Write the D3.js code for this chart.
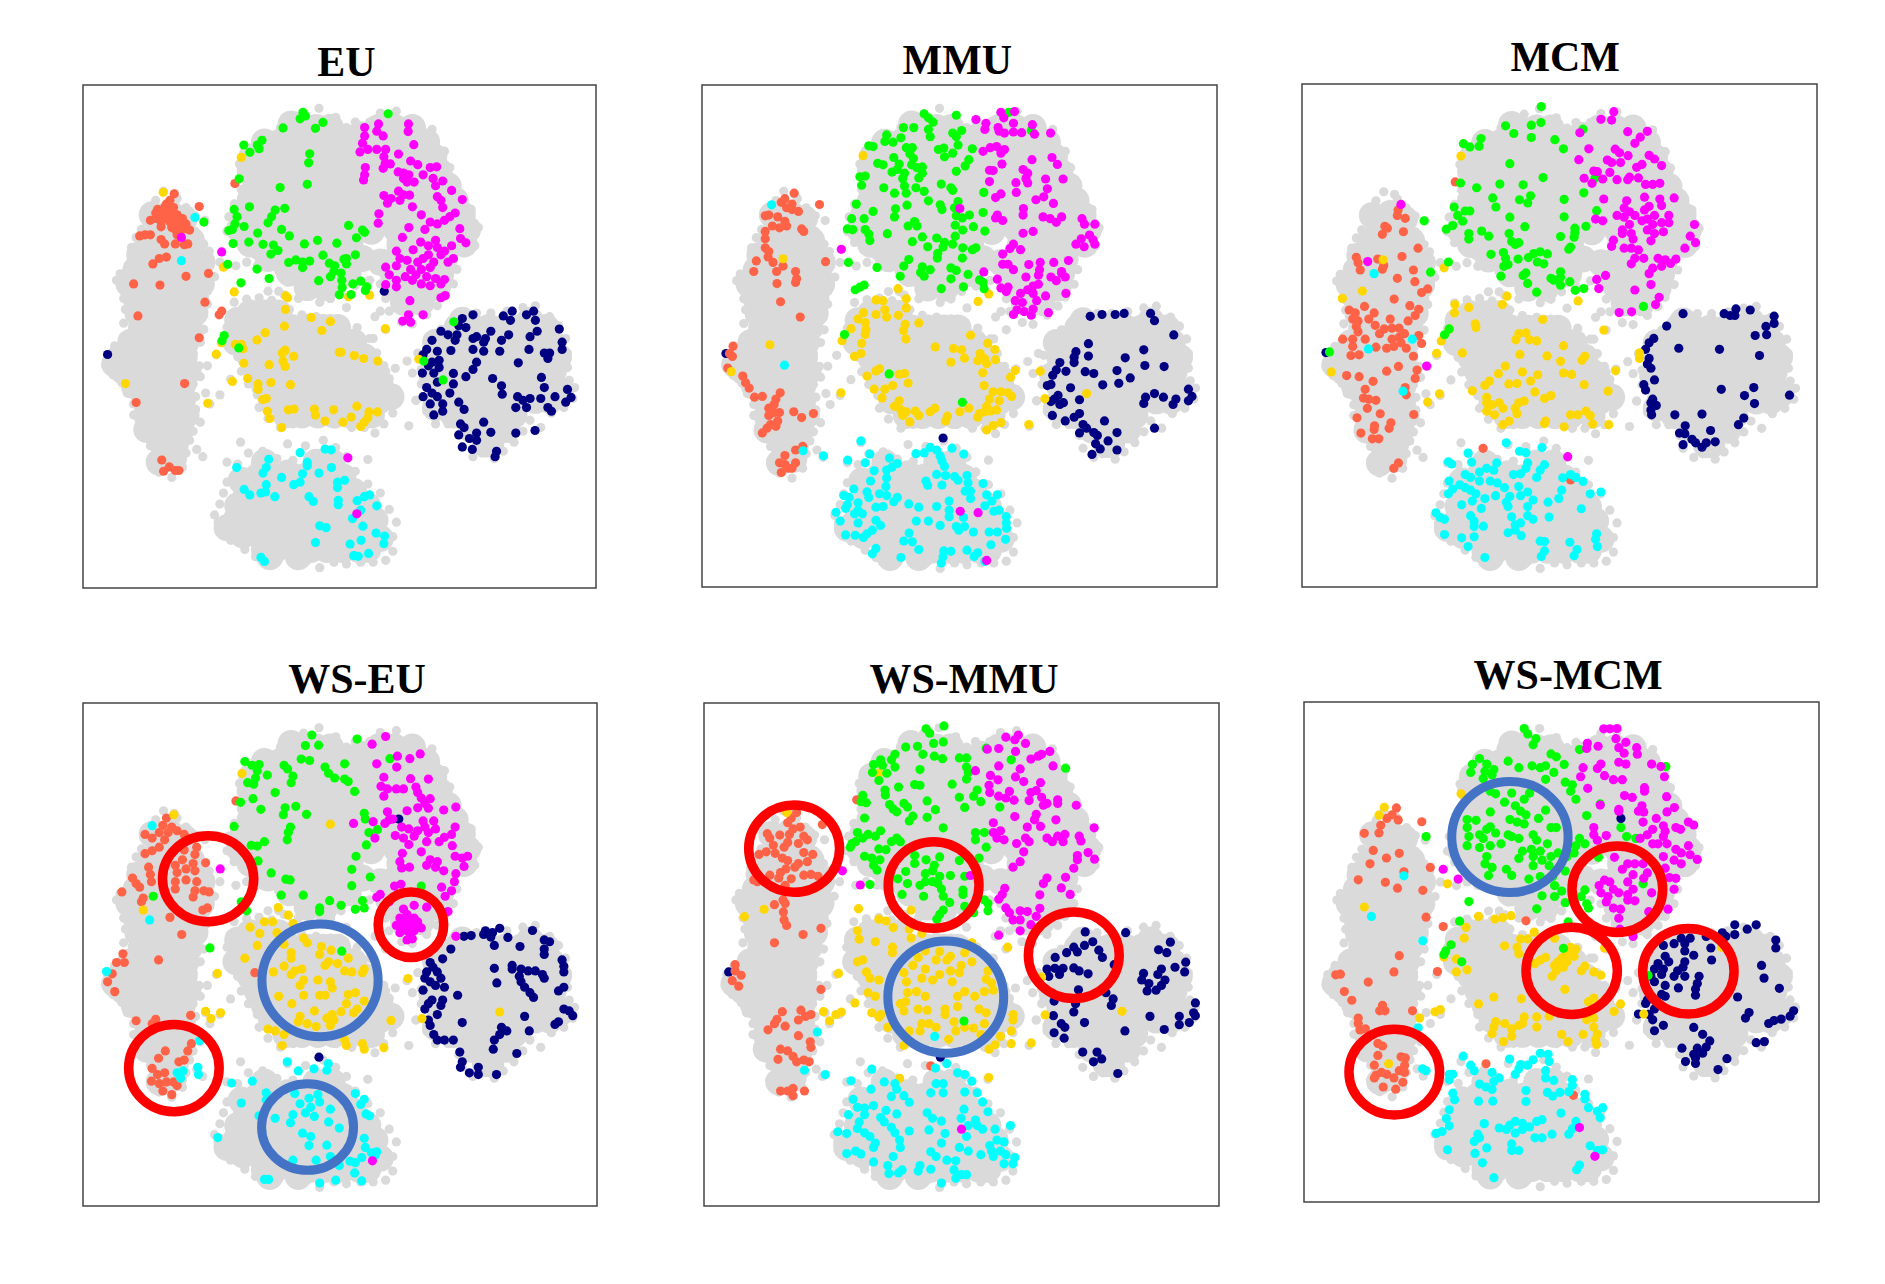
<!DOCTYPE html>
<html>
<head>
<meta charset="utf-8">
<script src="https://cdn.jsdelivr.net/npm/d3@7"></script>
<style>
  body { margin: 0; background: #fff; }
</style>
</head>
<body>
<div class="chart"></div>
<script>
// flat x,y lists
var grayCore = [
  280,505,230,510,320,520, 250,540,295,540, 225,580,270,580,315,580,340,580, 195,620,210,620,255,620,300,620,345,620,370,640,
  185,660,230,660,275,660,320,660,360,660, 165,700,170,700,215,700,260,700,305,700,350,700,368,700,
  185,740,230,740,275,740,320,740,352,740, 190,780,235,780,280,780,325,780,350,780,
  200,820,245,820,290,820,335,820, 170,860,215,860,260,860,305,860,325,860,
  140,900,185,900,230,900,275,900,320,900, 125,920,150,940,195,940,240,940,285,940,330,940,
  180,980,225,980,270,980,315,980, 210,1020,255,1020,300,1020,315,1020,
  215,1060,260,1060,305,1060,325,1060, 215,1100,235,1100,280,1100,310,1100, 260,1140,295,1140, 250,1190,265,1180,290,1180,
  620,260,640,270,690,270,730,270,865,270,910,270,960,270,
  545,310,590,310,635,310,680,310,725,310,765,310,785,300,815,290,810,310,845,310,890,310,935,310,980,310,1000,310,
  510,350,555,350,600,350,645,350,690,350,735,350,780,350,825,350,870,350,915,350,960,350,1005,350,1020,350,
  505,390,550,390,595,390,640,390,685,390,730,390,775,390,820,390,865,390,910,390,955,390,1000,390,1035,390,
  520,430,565,430,610,430,655,430,700,430,745,430,790,430,835,430,880,430,925,430,970,430,1015,430,1060,430,
  505,470,550,470,595,470,640,470,685,470,730,470,775,470,820,470,865,470,910,470,955,470,1000,470,1045,470,1080,470,
  485,510,530,510,575,510,620,510,665,510,710,510,755,510,800,510,830,510,880,510,925,510,970,510,1015,510,1060,510,1100,510,
  475,550,520,550,565,550,610,550,655,550,700,550,745,550,795,550,845,555,915,550,960,550,1005,550,1050,550,1095,550,1115,550,
  505,590,550,590,595,590,640,590,685,590,730,590,785,590,925,590,970,590,1015,590,1060,590,1105,590,
  555,630,600,630,645,630,690,630,735,630,770,630,820,630,870,640,915,630,960,630,1005,630,1050,630,
  615,670,660,670,705,670,750,670,780,670,905,670,950,670,995,670,1040,670,
  665,710,715,710,915,710,960,710,1005,710,1030,710, 935,750,985,750,
  505,780,550,780,585,780, 470,800,485,820,530,820,575,820,620,820,665,820,710,820,750,820,
  465,860,505,860,550,860,595,860,640,860,685,860,730,860,775,860,795,860,
  505,900,550,900,595,900,640,900,685,900,730,900,775,900,825,900,
  525,940,570,940,615,940,660,940,705,940,750,940,795,940,845,940,
  545,980,590,980,635,980,680,980,725,980,770,980,815,980,870,980,
  565,1020,610,1020,655,1020,700,1020,745,1020,790,1020,835,1020,868,1020,900,1010,
  605,1060,650,1060,695,1060,740,1060,785,1060,845,1060,
  1100,800,1085,820,1130,820,1175,820,1220,820,1265,820,1290,800,1310,820,1335,820,
  1025,860,1045,860,1090,860,1135,860,1180,860,1225,860,1270,860,1315,860,1350,860,
  1035,900,1080,900,1125,900,1170,900,1215,900,1260,900,1305,900,1355,900,1370,900,
  1015,950,1040,940,1085,940,1130,940,1175,940,1220,940,1265,940,1310,940,1355,940,
  1035,980,1080,980,1125,980,1170,980,1215,980,1260,980,1305,980,1355,980,1375,1000,
  1025,1040,1035,1020,1080,1020,1125,1020,1170,1020,1215,1020,1260,1020,1305,1020,1345,1020,
  1075,1060,1120,1060,1165,1060,1210,1060,1245,1060, 1125,1100,1170,1100,1225,1100, 1165,1140,1180,1140,
  545,1190,690,1190,735,1190, 525,1230,555,1230,610,1220,655,1230,700,1230,745,1230,765,1230,
  480,1240,495,1270,540,1270,585,1270,600,1250,630,1270,675,1270,720,1270,765,1270,795,1270,
  470,1310,515,1310,560,1310,605,1310,650,1310,695,1310,740,1310,785,1310,835,1310,
  440,1370,465,1350,510,1350,555,1350,600,1350,645,1350,690,1350,735,1350,780,1350,825,1350,855,1350,
  485,1390,530,1390,575,1390,620,1390,665,1390,710,1390,755,1390,800,1390,855,1390,870,1400,
  545,1430,560,1450,575,1430,640,1450,675,1430,720,1430,765,1430,810,1430,835,1430
];
var grayEdge = [
  262,445,292,452,240,470,225,490,212,520,200,550,185,572,172,600,180,632,160,660,140,672,130,690,150,712,
  150,740,155,770,150,808,175,830,150,845,125,870,105,895,100,925,120,950,145,972,160,1000,178,1030,178,1060,
  195,1090,215,1115,225,1145,225,1185,250,1218,285,1232,315,1205,325,1165,335,1130,345,1105,365,1080,352,1045,
  352,1010,345,975,365,955,362,925,345,890,365,860,375,825,370,790,385,755,385,720,405,680,385,645,390,610,
  375,590,350,555,340,525,325,490,300,465,350,512,378,525,
  698,217,745,242,655,232,625,262,590,270,555,290,520,310,490,335,475,370,490,405,480,440,460,480,445,515,
  440,555,460,585,490,600,520,620,550,640,585,665,610,695,650,705,680,725,700,750,730,740,760,720,800,705,
  840,690,870,700,885,740,895,775,930,805,960,810,1000,785,1030,760,1050,735,1075,700,1085,660,1110,610,1135,595,
  1145,545,1125,495,1095,465,1085,430,1065,380,1050,335,1020,310,1015,275,985,270,950,250,915,225,870,230,
  840,255,800,255,775,270,
  465,650,495,640,525,650,555,720,585,720,640,740,700,730,730,740,775,765,855,790,870,775,885,825,850,850,
  945,912,960,945,885,940,912,932,970,1020,950,1090,380,1000,420,1005,392,1030,450,962,410,895,385,925,
  355,1155,372,1175,610,1140,478,1135,835,1183,420,640,
  460,750,495,742,530,738,565,745,600,730,615,770,650,785,690,790,730,795,770,805,805,820,840,850,860,890,
  880,925,895,960,915,990,900,1025,905,1055,880,1085,855,1110,825,1095,790,1095,745,1085,700,1075,660,1075,
  625,1085,590,1095,555,1070,530,1040,525,1005,500,975,480,940,470,900,450,870,440,820,450,785,
  1040,825,1070,800,1105,785,1140,780,1180,780,1225,775,1270,765,1305,760,1345,790,1370,815,1390,850,1395,890,
  1395,930,1400,965,1415,985,1410,1015,1385,1040,1350,1055,1320,1095,1290,1075,1270,1105,1245,1135,1215,1160,
  1190,1180,1155,1165,1130,1175,1100,1150,1090,1115,1060,1085,1025,1085,1000,1050,970,1020,985,975,985,935,
  990,895,975,890,1005,855,
  440,1190,470,1195,500,1165,540,1160,580,1180,600,1215,625,1185,660,1145,710,1130,745,1150,775,1175,800,1215,
  835,1250,870,1275,895,1320,915,1355,905,1395,905,1435,885,1460,850,1465,815,1465,775,1470,740,1465,700,1480,
  665,1460,630,1450,590,1450,555,1465,520,1450,490,1430,450,1405,430,1385,415,1355,405,1335,420,1305,430,1275,
  440,1245,465,1225
];

var euCoral = [270,480,280,500,260,505,290,520,270,520,240,505,255,530,285,545,310,535,305,520,280,470,265,490,245,495,290,490,270,510,250,515,300,510,225,525,240,520,280,530,315,520,325,535,300,535,255,543,295,550,315,550,335,552,300,565,210,565,225,565,195,568,255,578,265,590,295,590,320,592,330,590,292,452,362,487,462,424,270,626,250,630,232,645,178,700,252,703,325,679,388,671,378,750,190,788,425,775,418,785,362,848,321,974,185,1026,257,1184,278,1203,262,1215,295,1213,305,1213];
var euGold = [261,448,480,352,430,654,460,722,605,733,610,738,604,770,601,816,676,792,730,803,706,828,547,834,524,854,884,823,463,866,480,866,485,878,600,885,603,882,595,890,627,899,760,888,755,888,797,897,823,905,863,912,410,893,597,912,603,927,558,922,487,918,978,907,424,862,155,974,498,960,455,968,527,975,563,971,618,977,527,990,540,1018,550,1015,386,1028,553,1050,560,1070,612,1046,628,1044,685,1044,688,1060,739,1046,804,1036,838,1052,862,1052,835,1068,825,1080,815,1092,788,1066,765,1080,715,1077,593,1095,781,735,840,731];
var euLime = [653,228,660,238,645,246,709,256,688,272,597,271,892,232,538,305,525,318,530,328,487,318,504,338,672,342,669,367,474,411,589,435,665,426,460,495,503,488,602,492,575,497,565,515,555,532,468,515,462,535,445,553,455,550,488,542,526,560,593,550,781,539,820,552,826,558,375,530,615,568,803,573,694,580,457,589,501,585,541,591,570,593,657,590,748,588,583,608,563,618,709,621,800,620,775,630,613,641,633,634,672,637,652,640,652,655,768,632,775,645,727,643,742,650,442,646,524,659,740,665,760,670,730,680,558,685,697,691,479,697,762,690,793,700,815,692,832,708,828,718,763,710,755,730,788,729,432,842,426,856,473,876,1076,804,992,912,1046,964];
var euMagenta = [826,270,865,260,860,280,878,293,949,260,948,281,826,293,820,313,964,317,813,337,835,330,860,330,885,330,880,350,921,343,884,368,878,382,898,370,828,380,826,400,823,414,955,362,975,372,1010,380,1028,378,920,392,935,395,950,400,935,410,965,420,990,400,1018,410,945,420,1045,417,1025,430,1070,443,1030,460,1040,470,1045,490,921,445,952,456,880,457,900,465,925,470,935,455,1100,468,890,478,960,488,985,510,1080,505,1065,515,1050,525,1030,535,1010,530,995,550,866,507,864,533,950,545,1093,548,932,572,983,585,1095,575,1110,587,1070,595,1025,580,1005,595,1030,600,915,610,962,606,1050,610,1075,630,1040,620,1005,620,925,630,945,635,975,640,990,630,1020,640,1060,640,885,654,915,650,955,660,985,660,1010,655,895,675,940,680,970,675,1000,680,1025,685,1050,688,885,702,915,690,915,708,960,690,985,700,1010,705,1040,700,1040,738,1052,732,953,746,949,785,990,785,933,802,955,805,425,612,312,572,804,1332,779,1178];
var euNavy = [105,894,881,720,1130,785,1100,795,1090,815,1110,820,1085,840,1040,830,1060,840,1080,855,1130,850,1140,845,1165,850,1160,860,1180,830,1215,788,1240,775,1235,800,1210,855,1230,840,1280,785,1300,775,1305,800,1290,845,1310,830,1372,824,1380,860,1380,880,1345,890,1330,890,1340,905,1287,880,1205,885,1160,885,1130,880,1068,883,1015,855,1000,880,1030,885,990,895,1035,910,1035,930,1015,915,1005,925,1020,945,988,945,1075,946,1140,915,1130,935,1257,917,1110,955,1185,960,1210,980,1212,1003,1322,957,1075,975,1065,1000,1030,970,1000,985,1015,1000,1030,1010,990,1010,1010,1030,1045,1030,1045,1050,1020,1060,1090,1025,1105,1045,1255,1010,1270,1020,1290,1015,1330,985,1320,1015,1340,1040,1350,1050,1360,1010,1395,990,1405,1012,1390,1025,1250,1040,1280,1040,1160,1080,1095,1085,1105,1095,1090,1115,1120,1125,1140,1110,1180,1108,1140,1130,1100,1148,1128,1155,1196,1160,1192,1175,1250,1110,1304,1103];
var euCyan = [350,517,312,636,645,1164,715,1154,732,1156,557,1182,665,1190,665,1200,733,1205,467,1205,550,1205,541,1220,652,1222,698,1220,593,1232,645,1245,627,1252,550,1252,770,1240,750,1245,750,1260,488,1265,504,1280,535,1275,548,1272,574,1285,670,1285,682,1298,840,1280,825,1285,805,1296,752,1295,752,1307,860,1310,815,1322,792,1345,700,1365,718,1370,821,1366,858,1385,882,1393,688,1411,785,1415,816,1405,880,1414,837,1441,795,1447,808,1449,535,1452,545,1463];

var mmuCoral = [291,450,265,465,255,475,362,481,285,480,270,490,303,500,285,495,210,512,220,510,245,515,265,527,230,540,250,545,270,540,312,548,318,555,210,555,210,575,210,600,220,610,218,625,232,640,260,650,185,636,379,638,178,665,242,665,295,665,298,685,243,698,295,695,253,748,308,790,120,870,110,890,118,898,105,930,147,952,155,970,165,985,180,1010,202,1008,252,998,240,1015,235,1030,220,1040,250,1052,235,1052,220,1060,345,1055,290,1050,312,1066,245,1075,225,1085,215,1095,202,1108,240,1090,295,1155,315,1145,265,1170,250,1190,265,1195,295,1190,275,1205,255,1217,285,1205];
var mmuGold = [484,347,260,630,223,866,115,940,582,712,520,743,540,745,605,740,545,770,605,765,485,778,470,795,490,805,520,783,550,790,583,785,640,806,602,810,597,827,492,825,490,838,450,822,425,855,604,850,480,862,785,840,833,862,686,872,737,876,760,880,853,879,812,890,478,890,460,898,768,903,805,910,825,905,855,907,730,914,830,918,530,932,520,938,600,945,585,947,819,943,910,937,495,952,897,955,980,939,610,971,567,978,823,978,515,988,545,988,848,995,870,995,890,998,900,1008,422,998,537,1012,838,1015,865,1020,993,1014,1110,1000,585,1020,572,1035,590,1045,605,1050,630,1048,640,1060,685,1040,672,1050,720,1062,715,1075,830,1035,825,1050,810,1055,780,1040,755,1050,858,1045,840,1048,595,1060,615,1078,948,1085,870,1080,848,1088,830,1100,805,1065,836,727,806,747];
var mmuLime = [655,232,667,243,680,255,745,236,597,270,626,270,667,275,672,295,760,278,735,285,745,295,550,290,590,298,545,308,568,310,500,320,512,322,605,325,622,325,710,326,695,330,750,318,735,340,790,328,615,342,625,355,712,350,780,358,570,352,525,368,540,372,585,370,620,372,770,375,650,378,635,380,580,385,565,392,600,395,745,390,490,403,475,405,595,410,650,395,640,408,480,428,542,435,600,430,632,435,703,425,730,435,735,442,572,450,605,450,655,445,822,448,667,471,750,473,465,480,700,482,705,495,740,490,575,493,607,483,512,500,820,503,572,515,452,520,487,520,745,512,762,518,782,510,628,528,610,540,635,540,742,538,793,542,440,548,455,550,490,550,500,562,763,551,825,554,552,561,503,580,650,570,690,573,742,568,622,583,712,585,735,590,708,598,665,597,763,600,800,600,790,605,693,615,692,628,612,632,762,628,443,640,598,650,523,654,650,652,730,655,745,662,672,660,645,668,655,678,588,678,778,673,730,685,810,688,820,695,462,715,475,708,487,702,703,712,765,707,823,712,432,838,557,946,762,1024,892,228,955,278];
var mmuMagenta = [870,228,908,226,878,243,800,248,828,258,825,275,905,258,958,262,862,270,865,280,880,285,905,282,928,284,964,288,1009,285,858,322,880,330,840,325,820,335,870,340,873,370,957,358,1013,352,1028,371,838,387,848,388,932,385,945,395,940,410,995,411,1044,411,838,418,912,421,945,422,1000,438,913,448,870,452,855,462,990,460,968,468,1017,478,755,492,933,492,932,510,860,510,855,518,875,525,988,515,1008,520,1025,530,1040,515,1097,520,1104,535,1133,535,932,560,960,555,1118,565,1128,578,1133,590,1095,575,1080,590,1103,597,905,590,895,602,925,605,875,617,423,604,1059,635,1018,640,980,640,948,646,875,645,890,645,905,660,978,660,1040,665,822,666,860,686,940,680,975,675,1010,680,1025,690,1050,680,1040,670,870,710,885,720,890,708,960,705,975,700,945,715,925,725,960,725,995,732,1052,725,910,745,930,750,970,745,915,770,935,775,960,768,1003,778,905,783,955,785,756,1323,806,1327,830,1458];
var mmuNavy = [100,890,1120,788,1153,783,1190,783,1215,780,1289,780,1300,800,1354,839,1115,863,1080,885,1075,900,1075,915,1115,897,1270,880,1218,902,1035,915,1025,935,1052,939,1106,940,1130,945,1195,937,1273,923,1327,926,1232,957,1155,976,1200,972,1015,950,1010,975,1000,978,1065,984,1030,1005,1020,1015,1010,1022,1035,1030,1045,1025,1090,1017,1300,1000,1275,1010,1325,1010,1360,1015,1352,1030,1270,1027,1395,988,1405,1008,1395,1020,1014,1060,1090,1055,1075,1065,1050,1075,1160,1075,1100,1085,1110,1095,1090,1108,1130,1107,1140,1115,1195,1107,1300,1095,1170,1130,1135,1138,1148,1152,1195,1155,1125,1167,708,1122];
var mmuCyan = [228,482,264,922,316,1157,373,1171,478,1130,672,1148,690,1155,733,1150,655,1163,632,1165,503,1166,558,1177,700,1172,766,1166,441,1183,490,1190,705,1185,580,1192,565,1202,712,1200,550,1210,515,1212,715,1225,690,1222,740,1228,775,1225,660,1240,750,1238,550,1232,505,1240,820,1247,665,1252,778,1245,705,1251,548,1255,770,1268,785,1268,458,1262,495,1270,530,1275,500,1285,550,1280,445,1285,430,1280,580,1285,830,1278,860,1278,785,1288,440,1305,470,1300,570,1297,725,1295,845,1295,612,1303,690,1310,640,1312,540,1310,520,1312,470,1320,435,1315,825,1308,865,1320,850,1323,725,1320,460,1330,482,1330,408,1326,420,1350,885,1338,725,1338,765,1340,633,1350,667,1350,885,1355,520,1348,470,1355,533,1362,700,1362,745,1365,768,1365,886,1370,510,1375,495,1385,752,1375,793,1380,837,1380,860,1380,613,1383,435,1388,462,1389,485,1395,883,1400,598,1405,622,1407,842,1415,520,1425,510,1440,640,1428,710,1432,730,1433,775,1430,805,1437,795,1447,708,1448,590,1450,703,1465,825,1461];

var mcmCoral = [302,495,300,510,322,518,265,540,272,545,258,562,317,555,358,600,185,625,245,630,190,640,313,623,262,648,258,658,196,660,345,660,300,683,349,692,385,712,368,722,462,418,291,740,335,758,208,760,360,768,165,770,182,778,235,778,350,785,175,795,190,800,220,795,280,795,330,800,238,812,263,822,185,815,190,830,285,820,305,820,250,835,147,850,175,850,210,850,285,850,305,845,320,835,360,840,270,875,290,870,310,860,240,872,325,875,175,870,345,897,368,862,193,893,170,895,303,925,355,935,270,938,350,958,158,950,193,953,232,966,210,988,322,983,325,1003,205,1012,220,1015,240,1018,216,1040,252,1055,346,1057,187,1066,282,1080,236,1088,235,1098,277,1095,198,1108,230,1124,248,1124,303,1190,290,1205,540,1150,785,1237];
var mcmGold = [478,347,260,632,431,654,202,718,146,738,607,732,594,755,461,755,500,763,460,778,518,808,520,818,707,796,878,825,445,822,423,855,640,835,660,833,632,852,670,852,690,855,765,868,978,888,978,903,410,889,482,888,643,892,719,896,825,897,817,908,757,911,115,940,602,924,911,937,650,940,583,945,693,948,765,943,788,947,558,965,545,977,612,973,635,972,673,965,823,975,510,992,685,995,890,993,418,1000,385,1023,550,1010,730,1005,712,1013,655,1020,640,1025,550,1025,565,1030,585,1025,630,1040,596,1040,550,1048,635,1055,572,1058,785,1058,805,1058,828,1048,840,1060,613,1075,595,1085,715,1075,712,1082,847,1083,892,1085,767,1091,806,745];
var mcmLime = [703,211,603,264,675,262,702,255,820,273,626,285,675,296,741,302,534,299,485,313,503,322,529,320,765,327,615,368,708,406,853,408,477,421,587,424,652,426,522,434,822,448,673,456,567,462,642,467,665,476,767,466,576,487,459,487,490,498,503,498,858,497,469,510,483,526,615,515,767,514,375,525,657,541,828,540,455,538,437,548,797,545,797,558,795,570,536,553,613,560,500,560,500,575,556,567,757,568,620,582,630,590,640,585,785,597,780,603,597,612,562,617,682,615,700,610,720,616,443,638,603,628,667,626,638,630,610,645,598,650,692,638,710,643,393,666,660,668,652,675,590,677,757,665,757,680,665,697,730,683,738,688,783,692,757,702,690,721,798,716,822,711,432,838,445,822,989,760,110,885];
var mcmMagenta = [906,225,870,246,900,248,945,280,1000,279,980,295,965,312,811,283,836,327,910,328,922,338,946,346,808,357,888,358,900,365,925,365,1005,345,1020,355,1040,373,985,370,850,388,860,390,895,392,970,378,823,408,875,410,915,412,945,412,950,405,975,407,845,422,995,425,1015,425,1035,422,878,465,942,470,992,460,1035,465,1075,462,1040,483,1005,485,992,495,935,490,950,500,965,510,915,510,935,515,855,520,875,525,1000,520,1020,510,1060,510,950,535,985,525,1015,535,1040,530,1060,530,1132,535,930,550,955,560,1000,550,1020,560,1045,555,930,560,1010,580,905,578,960,575,1120,567,900,595,1135,585,935,600,955,600,975,605,1105,600,965,628,990,628,955,643,1030,628,1050,632,1065,642,1080,630,1015,655,1040,650,1005,670,1010,700,883,675,858,686,864,711,965,715,1033,735,1023,755,921,777,956,775,310,480,217,637,382,924,777,1173];
var mcmNavy = [100,887,1100,780,1215,780,1248,767,1288,770,1232,785,1245,785,1355,787,1355,807,1054,814,1332,815,1302,840,1334,838,1018,848,1005,860,995,878,1088,875,1202,878,1314,895,1005,903,1000,918,1010,930,1020,962,990,975,995,990,1207,988,1298,983,1272,1005,1398,1004,1015,1015,1010,1025,1025,1032,1300,1027,1010,1045,1012,1058,1077,1058,1153,1056,1270,1067,1255,1085,1106,1088,1177,1101,1090,1108,1105,1110,1125,1125,1135,1135,1165,1135,1190,1132,1153,1147,1100,1140];
var mcmCyan = [235,670,219,877,342,850,316,993,605,1135,705,1148,642,1158,660,1162,498,1163,443,1187,452,1193,508,1188,578,1190,665,1190,712,1195,660,1205,550,1205,530,1215,570,1210,490,1222,505,1230,625,1222,700,1210,645,1220,690,1230,785,1222,800,1230,820,1241,763,1231,445,1240,530,1240,560,1240,580,1245,475,1250,490,1258,505,1265,520,1275,640,1255,455,1262,600,1258,443,1275,760,1265,665,1270,870,1270,840,1275,645,1280,575,1280,615,1282,510,1295,545,1288,680,1292,752,1288,722,1298,605,1298,480,1305,535,1315,610,1310,665,1310,815,1316,408,1327,505,1335,420,1340,432,1345,620,1338,665,1335,725,1339,680,1345,515,1350,645,1355,515,1365,630,1360,541,1364,630,1375,432,1387,858,1385,610,1382,647,1390,480,1396,515,1393,855,1400,700,1405,712,1406,783,1408,498,1420,860,1420,803,1428,712,1432,795,1445,703,1447,545,1450];

var wsEuCoral = [270,465,260,485,285,490,250,505,275,505,300,500,210,510,230,520,265,525,320,510,250,545,210,563,230,555,355,545,320,553,350,565,380,588,315,580,345,590,220,600,295,595,325,605,350,610,225,620,300,615,175,630,228,640,185,645,295,640,325,635,355,640,195,655,295,660,145,668,350,665,375,665,390,668,205,685,345,682,200,695,465,418,385,712,372,718,280,738,313,785,148,838,130,862,152,862,248,855,118,893,105,915,125,942,518,890,338,1007,240,1018,185,1022,230,1030,340,1085,330,1105,267,1105,320,1130,248,1125,305,1135,230,1153,265,1165,245,1170,228,1188,290,1190,250,1195,270,1190,300,1200,260,1215,285,1225];
var wsEuGold = [291,456,482,343,730,482,205,718,584,711,612,732,545,750,568,750,625,755,505,765,580,780,532,782,655,795,665,808,705,818,600,812,525,815,732,828,620,835,700,840,780,850,620,850,490,850,725,860,750,865,570,888,630,885,600,872,650,880,715,870,770,885,825,880,820,890,790,888,413,892,620,895,655,910,695,910,730,915,645,925,948,906,735,932,800,945,585,955,655,952,700,952,715,952,780,950,825,968,622,975,775,975,805,990,1205,998,380,996,422,1000,395,1016,685,995,760,997,645,1010,735,1005,795,1000,720,1015,740,1020,900,1021,987,1016,640,1025,665,1030,690,1038,730,1035,555,1045,575,1050,600,1060,770,1075,595,1090,820,1085,825,1100,880,1096,775,1090];
var wsEuLime = [678,237,805,248,660,266,697,265,897,302,490,310,530,318,510,320,600,320,648,303,672,307,770,316,715,325,525,335,610,330,553,347,725,342,625,350,520,355,742,355,620,368,498,368,515,372,770,358,780,365,575,395,798,392,513,412,478,422,535,441,603,437,633,433,598,456,663,455,825,452,828,468,460,488,618,490,862,497,612,505,838,505,609,525,508,540,545,530,525,542,831,539,802,570,527,583,790,606,564,616,842,627,605,633,617,635,790,651,985,652,592,677,654,677,233,680,392,822,480,695,495,720,820,692,728,692,700,712,700,722,760,705,800,716,825,712,762,831];
var wsEuMagenta = [935,750,950,745,955,770,975,750,930,765,945,775,965,775,950,755,885,241,847,262,953,302,918,295,982,289,860,316,916,325,1005,358,880,353,955,357,872,378,970,380,890,385,915,385,935,385,880,405,975,395,985,410,1010,412,995,425,1005,438,975,437,945,445,1082,435,1048,443,890,448,895,470,905,468,883,480,850,475,795,480,990,473,1020,473,930,490,950,495,975,500,995,490,1025,495,1080,490,1070,510,1050,518,912,513,935,520,965,515,1005,505,855,520,1000,530,1035,530,950,538,985,558,1072,541,932,562,925,585,1010,580,1030,585,1080,570,1100,575,1115,570,1000,595,1025,600,1105,598,930,602,952,600,1048,610,1082,618,1078,640,910,652,928,647,1042,655,1070,665,1052,680,860,683,870,675,895,695,1060,722,1000,710,935,715,965,705,925,740,945,730,965,740,915,760,940,760,965,760,985,767,925,780,955,785,945,800,960,797,1082,790,421,605,848,1407];
var wsEuNavy = [922,468,1105,790,1125,788,1165,775,1185,780,1205,768,1160,785,1180,792,1297,774,1228,793,1330,800,1345,805,1190,815,1262,818,1330,825,1068,825,1330,840,1045,852,1380,855,1010,862,1018,875,1240,870,1385,872,1190,878,1000,888,1030,888,1240,880,1265,880,1285,885,1305,885,1385,888,995,905,1040,905,1325,895,1260,900,1330,905,1197,918,1010,915,1265,915,1025,925,1050,930,990,938,1275,930,1385,930,1370,940,1290,945,1087,952,1300,958,1015,965,1045,965,1005,975,1040,980,995,990,1030,1005,1385,990,1400,995,1410,1008,1275,1010,1005,1020,1010,1035,1100,1027,1370,1025,1360,1032,1210,1040,1225,1050,1288,1050,1205,1060,1190,1075,1020,1060,1030,1075,1050,1075,1075,1075,1187,1100,1253,1112,1093,1108,1100,1135,1095,1150,1145,1150,1120,1165,1145,1170,1196,1170,698,1122];
var wsEuCyan = [230,486,223,745,102,887,363,1077,609,1135,724,1140,640,1160,684,1154,720,1158,300,1165,317,1160,358,1150,360,1170,310,1180,453,1193,511,1188,550,1220,630,1222,800,1222,670,1235,695,1225,825,1238,815,1252,480,1248,550,1240,645,1250,700,1245,675,1260,730,1265,830,1278,840,1283,660,1275,685,1285,625,1280,530,1283,575,1290,618,1302,725,1300,755,1317,652,1331,675,1340,414,1343,825,1345,670,1365,720,1364,828,1370,860,1382,845,1385,855,1393,730,1395,690,1405,625,1405,785,1408,800,1412,818,1398,755,1420,798,1440,545,1458,557,1458,745,1460,818,1462,700,1468];

var wsMmuCoral = [285,465,300,450,372,483,275,478,290,495,310,490,218,508,225,520,253,512,320,515,330,525,280,510,235,540,275,532,305,535,265,545,195,565,215,558,240,562,320,560,345,565,260,575,275,582,330,585,305,590,295,600,270,605,255,615,225,622,250,630,285,632,320,622,340,620,360,625,180,635,190,640,268,650,262,690,268,700,238,703,263,723,265,745,272,760,368,768,318,785,238,808,468,415,128,868,128,885,145,897,120,912,138,927,368,936,260,997,312,993,340,1005,325,1010,305,1020,245,1018,238,1030,268,1037,220,1047,305,1063,338,1080,340,1095,255,1100,275,1105,290,1120,248,1128,300,1135,320,1130,335,1135,255,1215,275,1215,290,1208,322,1215,290,1228,675,1146];
var wsMmuGold = [530,342,272,450,154,736,209,716,473,714,620,718,530,743,550,748,570,766,615,770,470,775,475,798,650,782,520,805,568,820,890,820,568,835,620,795,790,808,700,832,660,830,640,848,690,855,730,845,470,860,485,855,770,835,720,855,790,860,625,870,660,880,730,885,760,870,495,888,600,890,700,895,755,890,835,885,505,905,530,910,607,915,650,905,680,910,735,915,830,908,845,918,417,892,985,902,610,945,635,942,770,942,750,955,798,955,825,942,850,938,500,945,520,955,660,955,605,970,463,973,375,997,590,975,750,983,510,1000,535,1005,600,995,640,990,665,993,715,990,810,990,830,1000,715,1005,905,1005,905,1020,995,1006,1210,996,425,998,410,1005,392,1022,530,1012,825,1030,650,1030,670,1030,645,1050,690,1040,740,1025,770,1040,745,1050,795,1042,555,1040,615,1050,900,1050,870,1065,725,1073,815,1060,600,1090,900,1085,838,1100,855,1088,956,1083,837,1178,588,1180];
var wsMmuLime = [662,220,712,212,672,232,605,270,638,268,683,260,710,256,653,290,685,295,708,302,755,300,775,300,575,290,535,305,565,305,830,273,900,305,515,318,540,320,575,325,775,325,1052,328,645,332,512,340,552,342,780,340,530,362,585,380,630,373,645,375,775,358,735,372,547,388,548,402,805,388,795,405,485,403,480,420,495,423,755,408,815,420,665,418,560,428,600,425,570,440,610,435,580,448,770,436,688,442,868,435,625,460,665,463,615,473,490,465,710,492,800,505,825,505,470,505,535,500,500,510,485,520,520,515,465,530,800,525,580,520,455,535,590,530,565,530,830,545,450,545,530,550,550,552,610,550,490,570,510,575,533,580,630,568,630,590,662,580,700,572,755,582,810,575,515,595,525,608,685,595,605,612,660,618,680,610,700,625,730,623,770,625,583,632,505,648,660,640,680,640,645,650,695,645,705,660,610,645,765,663,595,675,655,680,710,680,765,675,728,697,825,690,770,708,835,700,835,720,710,718,700,730,692,743,795,725,768,1023];
var wsMmuMagenta = [885,243,920,237,910,250,940,260,833,276,865,274,912,282,985,290,1008,282,955,303,975,295,865,322,1017,322,800,335,925,330,842,348,863,360,912,352,935,365,982,368,838,375,840,395,895,392,955,395,970,390,865,405,885,410,908,416,985,408,1030,415,1030,425,950,417,990,430,1000,425,1082,430,910,461,970,455,965,470,1025,470,945,490,982,488,850,478,870,500,850,505,1132,492,860,520,880,525,1000,520,1030,515,1050,510,1090,515,940,520,1015,530,1045,530,915,535,950,530,1095,528,1085,568,1115,560,1133,578,935,558,1085,580,925,585,905,600,1075,603,428,610,786,623,478,649,1000,630,990,645,1052,628,1040,657,980,676,882,658,875,675,865,688,1065,675,980,713,885,712,895,725,925,720,945,722,905,745,925,745,955,758,970,735,925,775,865,787,761,1320];
var wsMmuNavy = [110,888,1107,778,1220,780,1128,805,1105,815,1345,806,1145,828,1075,820,1055,835,1085,833,1312,827,1335,835,1155,848,1023,848,1388,861,1358,875,1188,868,1000,880,1022,878,1045,878,1075,877,1090,885,1115,893,1035,895,1005,900,1320,880,1385,888,1270,892,1310,895,1265,910,1330,910,1285,920,1320,925,1280,940,1305,938,1088,937,1165,945,1185,962,1020,968,1080,975,1180,980,1415,973,1075,998,1018,1008,1288,1010,1370,1010,1410,1000,1415,1008,1105,1027,1040,1030,1370,1033,1398,1027,1050,1040,1020,1055,1328,1046,1218,1050,1048,1070,1100,1108,1140,1108,1153,1127,1130,1135,1198,1167,702,1122];
var wsMmuCyan = [358,1053,322,1158,380,1170,686,1065,720,1140,688,1152,510,1155,750,1165,770,1170,452,1187,545,1190,690,1195,710,1195,575,1195,790,1188,508,1210,580,1210,770,1218,805,1220,675,1220,710,1220,600,1228,565,1230,615,1246,458,1238,820,1245,470,1260,515,1255,490,1262,550,1268,768,1265,835,1272,665,1275,580,1278,445,1280,490,1280,535,1288,680,1290,760,1290,705,1298,800,1295,475,1300,545,1300,565,1315,898,1310,780,1310,805,1310,855,1320,820,1320,470,1318,615,1325,415,1327,440,1332,490,1330,575,1330,670,1322,715,1332,775,1340,505,1340,588,1350,520,1358,860,1350,705,1358,880,1355,840,1365,755,1370,590,1370,515,1370,845,1380,870,1380,780,1380,675,1382,440,1387,465,1380,480,1388,815,1390,850,1395,885,1390,910,1398,570,1395,690,1395,720,1405,515,1410,745,1407,880,1415,905,1415,640,1435,555,1420,595,1432,585,1440,645,1420,675,1430,740,1432,760,1445,745,1455,775,1445,558,1442,705,1468];

var wsMcmCoral = [297,436,285,455,270,465,302,469,368,474,253,484,207,506,248,505,232,553,305,561,269,574,223,590,392,600,318,612,190,634,266,641,300,657,371,663,380,737,428,763,660,747,305,843,412,887,127,896,140,894,290,888,218,916,151,942,172,966,258,980,250,995,265,995,342,995,190,1015,190,1030,195,1048,210,1045,245,1085,258,1092,245,1118,310,1122,235,1145,322,1125,320,1145,305,1160,320,1165,240,1172,255,1165,270,1170,290,1180,235,1180,315,1192,260,1205,295,1211,548,1141,793,1228];
var wsMcmGold = [760,850,755,870,780,835,790,835,740,870,263,434,248,456,478,397,440,645,207,709,527,735,573,742,595,738,618,733,492,765,683,778,645,797,665,797,487,795,740,795,600,816,635,820,785,820,800,825,880,822,430,847,640,838,465,852,495,882,465,888,770,840,795,845,715,848,700,855,685,865,750,860,775,860,765,875,825,872,815,885,745,885,850,888,870,897,733,900,1208,820,769,936,570,957,647,962,850,960,835,970,527,976,925,976,880,965,907,997,420,992,405,998,362,1015,655,1012,600,1030,575,1025,690,1012,725,1010,650,1030,830,1020,850,1015,690,1040,570,1040,640,1035,620,1045,565,1058,850,1040,820,1060,860,1060,760,1060,855,1075,778,1080,620,1065,597,1080,858,1088,990,1004,275,1141];
var wsMcmLime = [655,217,665,232,688,245,680,262,810,275,530,300,610,307,730,287,745,295,510,316,550,315,570,330,640,325,677,320,700,325,715,320,767,316,1052,322,505,338,545,335,565,345,738,338,540,355,715,357,770,365,790,372,560,390,575,397,620,395,670,395,785,390,800,412,655,412,600,420,630,430,715,442,868,425,560,447,645,445,660,455,830,457,495,468,520,470,615,468,635,475,695,465,655,480,560,488,730,490,745,490,495,490,550,495,575,505,610,510,640,520,680,510,500,515,530,510,810,520,926,490,380,515,540,520,590,535,620,515,690,525,720,535,968,520,942,515,495,540,530,545,560,540,825,535,800,540,650,555,675,550,700,555,750,560,795,560,550,570,640,575,680,570,705,580,730,570,775,570,863,572,545,590,565,600,605,605,680,595,725,595,555,622,620,622,668,632,700,625,735,625,770,610,740,650,760,665,825,662,988,645,770,697,705,678,740,680,815,680,500,694,690,714,830,700,835,712,778,750,474,748,450,813,435,830,430,840,480,860,765,823,1002,898];
var wsMcmMagenta = [878,218,895,218,915,217,912,245,940,255,832,258,862,266,830,272,920,270,970,270,935,285,972,288,920,310,940,315,1012,315,870,315,860,327,1038,322,820,325,1048,350,813,350,880,347,905,358,930,358,992,380,992,390,833,382,1054,405,936,402,958,407,868,428,1076,435,985,430,920,440,975,445,990,447,1055,447,920,445,1025,465,988,475,1115,475,1130,483,1045,485,850,490,1015,495,1080,490,1093,495,850,510,885,512,1050,500,860,525,1000,510,980,520,1045,515,1015,535,1030,535,1055,535,1115,540,1080,550,1045,570,1095,560,1120,565,1140,578,1075,580,1095,590,908,572,945,590,965,590,988,590,930,605,1050,602,960,620,1000,615,990,630,880,635,945,640,1062,628,1080,630,865,650,895,640,960,660,1075,660,905,660,870,670,890,680,920,670,945,675,1012,670,885,695,945,690,965,692,905,712,925,715,1058,715,1004,722,920,740,923,770,960,790,428,605,470,632,810,1317,853,1396];
var wsMcmNavy = [926,465,1245,758,1280,770,1305,758,1245,785,1210,780,1220,790,1095,795,1120,795,1165,790,1075,810,1105,810,1360,800,1360,822,1045,815,1178,822,1105,830,1130,842,1050,845,1180,855,1105,860,1030,865,1060,860,1020,880,1045,880,1100,875,1320,870,1085,885,1010,900,1040,895,1075,900,1145,900,1105,900,1327,905,1020,915,1140,920,1050,925,1135,935,1087,932,1370,933,1040,950,1135,952,1000,965,1050,955,1253,957,995,975,1020,990,1005,1005,975,1004,1285,1000,1275,1015,1410,995,1400,1010,1015,1020,1375,1018,1355,1022,1340,1030,1045,1035,1020,1050,1130,1041,1155,1060,1175,1078,1305,1083,1328,1080,1097,1098,1140,1098,1165,1095,1155,1112,1130,1115,1223,1127,1107,1135,1135,1125,1135,1140,1198,1157];
var wsMcmCyan = [318,623,227,735,371,802,358,1042,484,1120,700,1112,722,1115,614,1128,680,1130,725,1135,645,1143,665,1145,505,1145,515,1160,565,1165,640,1155,715,1160,630,1170,370,1155,380,1160,445,1170,455,1170,585,1180,715,1180,738,1187,790,1185,445,1185,570,1190,790,1200,530,1197,548,1205,565,1212,660,1215,755,1220,720,1220,735,1230,825,1225,780,1218,825,1238,455,1222,460,1240,527,1244,567,1244,660,1245,835,1262,875,1262,860,1272,445,1268,868,1290,758,1277,437,1292,705,1295,690,1300,445,1312,543,1306,800,1300,650,1305,630,1300,615,1310,585,1318,605,1322,630,1332,650,1322,670,1315,790,1320,780,1335,408,1333,425,1328,525,1335,685,1345,705,1345,733,1335,530,1345,515,1355,620,1362,550,1373,440,1378,620,1380,640,1380,840,1367,860,1380,875,1378,517,1388,538,1414,810,1420,802,1433,570,1455];

var ringsEU = [[387,632,128,118,'red'],[956,758,92,90,'red'],[291,1152,127,120,'red'],[701,911,163,155,'blue'],[666,1314,129,119,'blue']];
var ringsMMU = [[293,549,127,120,'red'],[683,649,127,119,'red'],[1075,842,127,119,'red'],[717,957,162,154,'blue']];
var ringsMCM = [[615,516,163,153,'blue'],[916,660,127,119,'red'],[788,885,128,120,'red'],[1115,886,128,118,'red'],[291,1164,127,118,'red']];

// same order in every panel, later ones are drawn on top
var classColors = ['#000080', '#ff6347', '#ffd700', '#00ff00', '#00ffff', '#ff00ff'];

var panels = [
  { title: 'EU', box: [83, 85, 596, 588], read: [36, 153, 1475, 1536], titleX: 775, titleY: 127, rings: [],
    series: [euNavy, euCoral, euGold, euLime, euCyan, euMagenta] },
  { title: 'MMU', box: [702, 85, 1217, 587], read: [33, 153, 1475, 1531], titleX: 748, titleY: 124, rings: [],
    series: [mmuNavy, mmuCoral, mmuGold, mmuLime, mmuCyan, mmuMagenta] },
  { title: 'MCM', box: [1302, 84, 1817, 587], read: [33, 149, 1475, 1531], titleX: 770, titleY: 112, rings: [],
    series: [mcmNavy, mcmCoral, mcmGold, mcmLime, mcmCyan, mcmMagenta] },
  { title: 'WS-EU', box: [83, 703, 597, 1206], read: [36, 149, 1478, 1531], titleX: 805, titleY: 122, rings: ringsEU,
    series: [wsEuNavy, wsEuCoral, wsEuGold, wsEuLime, wsEuCyan, wsEuMagenta] },
  { title: 'WS-MMU', box: [704, 703, 1219, 1206], read: [41, 149, 1481, 1531], titleX: 768, titleY: 122, rings: ringsMMU,
    series: [wsMmuNavy, wsMmuCoral, wsMmuGold, wsMmuLime, wsMmuCyan, wsMmuMagenta] },
  { title: 'WS-MCM', box: [1304, 702, 1819, 1202], read: [38, 144, 1481, 1522], titleX: 778, titleY: 107, rings: ringsMCM,
    series: [wsMcmNavy, wsMcmCoral, wsMcmGold, wsMcmLime, wsMcmCyan, wsMcmMagenta] }
];

var svg = d3.select('.chart').append('svg')
    .attr('width', 1885)
    .attr('height', 1284)
    .style('display', 'block');

function pts(list) {
  var out = [];
  for (var i = 0; i < list.length; i += 2) out.push([list[i], list[i + 1]]);
  return out;
}

function drawDots(g, list, x, y, r, color) {
  g.append('g').selectAll('circle').data(pts(list)).enter().append('circle')
      .attr('cx', function(d) { return x(d[0]); })
      .attr('cy', function(d) { return y(d[1]); })
      .attr('r', r)
      .attr('fill', color);
}

panels.forEach(function(p) {
  var x = d3.scaleLinear().domain([p.read[0], p.read[2]]).range([p.box[0], p.box[2]]);
  var y = d3.scaleLinear().domain([p.read[1], p.read[3]]).range([p.box[1], p.box[3]]);
  var g = svg.append('g');

  drawDots(g, grayCore, x, y, 13.5, '#dadada');
  drawDots(g, grayEdge, x, y, 4.6, '#dadada');
  p.series.forEach(function(list, i) {
    drawDots(g, list, x, y, 4.6, classColors[i]);
  });

  g.selectAll('ellipse').data(p.rings).enter().append('ellipse')
      .attr('cx', function(d) { return x(d[0]); })
      .attr('cy', function(d) { return y(d[1]); })
      .attr('rx', function(d) { return x(d[0] + d[2]) - x(d[0]); })
      .attr('ry', function(d) { return y(d[1] + d[3]) - y(d[1]); })
      .attr('fill', 'none')
      .attr('stroke', function(d) { return d[4] === 'red' ? '#ff0000' : '#4472c4'; })
      .attr('stroke-width', function(d) { return d[4] === 'red' ? 9.5 : 9; });

  g.append('rect')
      .attr('x', p.box[0])
      .attr('y', p.box[1])
      .attr('width', p.box[2] - p.box[0])
      .attr('height', p.box[3] - p.box[1])
      .attr('fill', 'none')
      .attr('stroke', '#444')
      .attr('stroke-width', 1.5);

  g.append('text')
      .attr('x', x(p.titleX))
      .attr('y', y(p.titleY))
      .attr('text-anchor', 'middle')
      .attr('font-family', '"Liberation Serif", serif')
      .attr('font-weight', 'bold')
      .attr('font-size', 42)
      .text(p.title);
});
</script>
</body>
</html>
